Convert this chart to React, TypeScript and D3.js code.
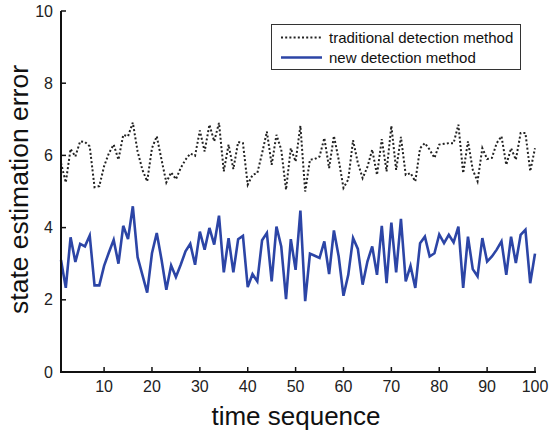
import React from "react";
import * as d3 from "d3";

const traditional: number[] = [
  5.79, 5.25, 6.18, 5.97, 6.39, 6.37, 6.25, 5.12, 5.15, 5.7,
  6.06, 6.3, 5.88, 6.57, 6.53, 6.91, 6.11, 5.6, 5.28, 6.2,
  6.53, 5.88, 5.25, 5.53, 5.34, 5.65, 5.88, 6.05, 5.99, 6.69,
  6.11, 6.85, 6.39, 6.9, 5.56, 6.3, 5.62, 6.37, 6.34, 5.19,
  5.46, 5.51, 6.06, 6.66, 5.74, 6.57, 6.16, 5.05, 6.2, 5.83,
  6.82, 5.0, 5.88, 5.9, 5.97, 6.48, 5.65, 6.54, 5.88, 5.1,
  5.33, 6.42, 5.79, 5.37, 5.68, 6.16, 5.46, 6.45, 5.56, 6.82,
  5.6, 6.51, 5.46, 5.51, 5.28, 6.2, 6.34, 6.16, 5.93, 6.3,
  6.32, 6.34, 6.34, 6.85, 5.51, 6.39, 5.6, 5.28, 6.2, 5.9,
  5.93, 6.34, 6.53, 5.74, 6.2, 5.88, 6.62, 6.62, 5.56, 6.2,
];

const newMethod: number[] = [
  3.1, 2.33, 3.73, 3.05, 3.55, 3.48, 3.78, 2.4, 2.4, 2.94,
  3.31, 3.66, 3.0, 4.05, 3.68, 4.59, 3.18, 2.69, 2.2, 3.29,
  3.85, 3.11, 2.28, 2.95, 2.63, 2.97, 3.34, 3.55, 2.97, 3.89,
  3.39, 3.99, 3.53, 4.33, 2.76, 3.71, 2.76, 3.68, 3.77, 2.35,
  2.71, 2.51, 3.65, 3.85, 2.51, 4.03, 3.48, 2.02, 3.68, 2.83,
  4.47, 1.96, 3.28, 3.22, 3.16, 3.62, 2.71, 3.92, 3.2, 2.11,
  2.69, 3.71, 3.41, 2.42, 3.06, 3.48, 2.69, 4.05, 2.46, 4.14,
  2.76, 4.24, 2.51, 2.94, 2.33, 3.57, 3.75, 3.2, 3.29, 3.81,
  3.57, 3.8, 3.59, 4.03, 2.33, 3.75, 2.85, 2.65, 3.71, 3.06,
  3.2, 3.39, 3.62, 2.69, 3.75, 3.02, 3.8, 3.94, 2.46, 3.28,
];

const xTicks: number[] = [10, 20, 30, 40, 50, 60, 70, 80, 90, 100];
const yTicks: number[] = [0, 2, 4, 6, 8, 10];
const seriesNames: string[] = ["traditional detection method", "new detection method"];

const W = 550;
const H = 436;
const FONT = "'Liberation Sans', Arial, sans-serif";

export default function App() {
  const x = d3.scaleLinear().domain([1, 100]).range([61, 535]);
  const y = d3.scaleLinear().domain([0, 10]).range([372, 11]);
  const line = d3
    .line<number>()
    .x((_, i) => x(i + 1))
    .y((d) => y(d));

  const blue = "#2c45a6";
  const axisColor = "#111";
  const lx = 271.5, ly = 24.5, lw = 249, lh = 45;

  return (
    <svg
      width={W}
      height={H}
      style={{ position: "absolute", left: 0, top: 0, background: "#fff" }}
      fontFamily={FONT}
    >
      <rect x={0} y={0} width={W} height={H} fill="#fff" />
      {/* series */}
      <path
        d={line(traditional) || ""}
        fill="none"
        stroke="#222"
        strokeWidth={2}
        strokeDasharray="2 2.2"
      />
      <path
        d={line(newMethod) || ""}
        fill="none"
        stroke={blue}
        strokeWidth={2.6}
        strokeLinejoin="miter"
      />
      {/* axes */}
      <line x1={x(1)} x2={x(100) + 1} y1={y(0)} y2={y(0)} stroke={axisColor} strokeWidth={2} />
      <line x1={x(1)} x2={x(1)} y1={y(0) + 1} y2={y(10)} stroke={axisColor} strokeWidth={2} />
      {xTicks.map((t) => (
        <g key={"xt" + t}>
          <line x1={x(t)} x2={x(t)} y1={y(0)} y2={y(0) - 5} stroke={axisColor} strokeWidth={1.5} />
          <text x={x(t)} y={392} textAnchor="middle" fontSize={16} fill="#222">
            {t}
          </text>
        </g>
      ))}
      {yTicks.map((t) => (
        <g key={"yt" + t}>
          <line x1={x(1)} x2={x(1) + 5} y1={y(t)} y2={y(t)} stroke={axisColor} strokeWidth={1.5} />
          <text x={53} y={y(t)} textAnchor="end" dominantBaseline="central" fontSize={16} fill="#222">
            {t}
          </text>
        </g>
      ))}
      {/* axis labels */}
      <text x={(x(1) + x(100)) / 2 - 2} y={425} textAnchor="middle" fontSize={26} fill="#111">
        time sequence
      </text>
      <text
        transform={`translate(28, ${(y(0) + y(10)) / 2 - 2}) rotate(-90)`}
        textAnchor="middle"
        fontSize={26.5}
        fill="#111"
      >
        state estimation error
      </text>
      {/* legend */}
      <rect x={lx} y={ly} width={lw} height={lh} fill="#fff" stroke="#333" strokeWidth={1} />
      <line x1={281} x2={322} y1={37.5} y2={37.5} stroke="#222" strokeWidth={2} strokeDasharray="2 2.2" />
      <line x1={281} x2={322} y1={57.5} y2={57.5} stroke={blue} strokeWidth={2.6} />
      <text x={329} y={37.5} dominantBaseline="central" fontSize={15} fill="#111">
        {seriesNames[0]}
      </text>
      <text x={329} y={57.5} dominantBaseline="central" fontSize={15} fill="#111">
        {seriesNames[1]}
      </text>
    </svg>
  );
}
